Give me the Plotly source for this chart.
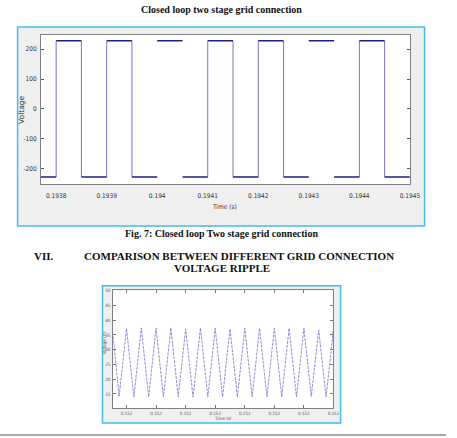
import plotly.graph_objects as go

W, H = 457, 438


def px(x):
    return x / W


def py(y):
    return 1 - y / H


# ---------------- Data: closed loop two stage grid connection ----------------
switch_times = [0.1938, 0.19385, 0.1939, 0.19395, 0.1940, 0.19405, 0.1941,
                0.19415, 0.1942, 0.19425, 0.1943, 0.19435, 0.1944, 0.19445]
edge_drawn = [1, 1, 1, 1, 0, 0, 1, 1, 1, 1, 0, 0, 1, 1]
v_high = 228
v_low = -228
t_start, t_end = 0.19377, 0.1945
top_xticks = [0.1938, 0.1939, 0.1940, 0.1941, 0.1942, 0.1943, 0.1944, 0.1945]
top_xticklabels = ["0.1938", "0.1939", "0.194", "0.1941", "0.1942", "0.1943", "0.1944", "0.1945"]
top_yticks = [200, 100, 0, -100, -200]
top_yticklabels = ["200", "100", "0", "-100", "-200"]

# ---------------- Data: voltage ripple ----------------
ripple_time = [0.1520055, 0.1520075, 0.15201, 0.1520125, 0.152015, 0.1520175,
               0.15202, 0.1520225, 0.152025, 0.1520275, 0.15203, 0.1520325,
               0.152035, 0.1520375, 0.15204, 0.1520425, 0.152045, 0.1520475,
               0.15205, 0.1520525, 0.152055, 0.1520575, 0.15206, 0.1520625,
               0.152065, 0.1520675, 0.15207, 0.1520725, 0.152075, 0.1520775,
               0.15208]
ripple_volt = [34.5, 14.2, 37.1, 14.0, 37.4, 14.0, 37.4, 14.0, 37.4, 14.0,
               37.1, 14.0, 37.4, 14.0, 37.3, 14.0, 37.1, 14.0, 37.3, 14.0,
               37.3, 14.0, 37.3, 14.0, 37.3, 14.0, 37.3, 14.2, 36.7, 14.0,
               37.0]
bot_xticks = [0.15201, 0.15202, 0.15203, 0.15204, 0.15205, 0.15206, 0.15207, 0.15208]
bot_xticklabels = ["0.152"] * 8
bot_yticks = [50, 45, 40, 35, 30, 25, 20, 15]
bot_yticklabels = ["50", "45", "40", "35", "30", "25", "20", "15"]

# ---------------- build step segments ----------------
bounds = [t_start] + switch_times + [t_end]
hx, hy = [], []
for i in range(len(bounds) - 1):
    lvl = v_low if i % 2 == 0 else v_high
    hx += [bounds[i], bounds[i + 1], None]
    hy += [lvl, lvl, None]
vx, vy = [], []
for t, d in zip(switch_times, edge_drawn):
    if d:
        vx += [t, t, None]
        vy += [v_low, v_high, None]

fig = go.Figure()
fig.add_trace(go.Scatter(x=vx, y=vy, mode="lines", xaxis="x", yaxis="y",
                         line=dict(color="#7474c8", width=1), hoverinfo="skip",
                         showlegend=False))
fig.add_trace(go.Scatter(x=hx, y=hy, mode="lines", xaxis="x", yaxis="y",
                         line=dict(color="#1e1e8c", width=1.6), hoverinfo="skip",
                         showlegend=False))
fig.add_trace(go.Scatter(x=ripple_time, y=ripple_volt, mode="lines", xaxis="x2", yaxis="y2",
                         line=dict(color="#8282dc", width=0.9, dash="3px,1px"),
                         hoverinfo="skip", showlegend=False))

tickfont_top = dict(family="DejaVu Sans Condensed, Liberation Sans Narrow, sans-serif",
                    size=6.5, color="#333333")
tickfont_bot = dict(family="DejaVu Sans Condensed, Liberation Sans Narrow, sans-serif",
                    size=4.5, color="#555555")

serif_bold = dict(family="Liberation Serif, Times New Roman, serif", size=10, color="#111111")

shapes = [
    # top figure frame
    dict(type="rect", xref="paper", yref="paper", x0=px(18), x1=px(435), y0=py(225), y1=py(25),
         fillcolor="#efefef", line=dict(color="#45bde6", width=1.5), layer="below"),
    dict(type="rect", xref="paper", yref="paper", x0=px(42), x1=px(420), y0=py(183), y1=py(33),
         fillcolor="#ffffff", line=dict(width=0), layer="below"),
    # bottom figure frame
    dict(type="rect", xref="paper", yref="paper", x0=px(105), x1=px(349), y0=py(423), y1=py(285),
         fillcolor="#efefef", line=dict(color="#45bde6", width=1.5), layer="below"),
    dict(type="rect", xref="paper", yref="paper", x0=px(116), x1=px(341.7), y0=py(407.7), y1=py(289.5),
         fillcolor="#ffffff", line=dict(width=0), layer="below"),
    # page rule
    dict(type="line", xref="paper", yref="paper", x0=0, x1=1, y0=py(435), y1=py(435),
         line=dict(color="#8c8c8c", width=1.5)),
]

annotations = [
    dict(text="<b>Closed loop two stage grid connection</b>", x=px(227), y=py(7.5),
         font=serif_bold),
    dict(text="Voltage", x=px(22), y=py(108), textangle=-90,
         font=dict(family="DejaVu Sans, sans-serif", size=7.5, color="#333333")),
    dict(text="Time (s)", x=px(230), y=py(206), font=tickfont_top),
    dict(text="<b>Fig. 7: Closed loop Two stage grid connection</b>", x=px(226.5), y=py(232.5),
         font=serif_bold),
    dict(text="<b>VII.</b>", x=px(45), y=py(255), font=dict(serif_bold, size=11)),
    dict(text="<b>COMPARISON BETWEEN DIFFERENT GRID CONNECTION</b>", x=px(245), y=py(255),
         font=dict(serif_bold, size=11)),
    dict(text="<b>VOLTAGE RIPPLE</b>", x=px(227), y=py(267.5), font=dict(serif_bold, size=11)),
    dict(text="Time (s)", x=px(228), y=py(418.5), font=tickfont_bot),
    dict(text="Voltage (V)", x=px(107.5), y=py(342), textangle=-90, font=tickfont_bot),
]
for a in annotations:
    a.update(xref="paper", yref="paper", showarrow=False, xanchor="center", yanchor="middle")

axis_common = dict(showgrid=False, zeroline=False, showline=True, linecolor="#808080",
                   linewidth=1, fixedrange=True)

fig.update_layout(
    width=W, height=H,
    margin=dict(l=0, r=0, t=0, b=0),
    paper_bgcolor="#ffffff",
    plot_bgcolor="#ffffff",
    showlegend=False,
    shapes=shapes,
    annotations=annotations,
    xaxis=dict(axis_common, domain=[px(42), px(420)], range=[t_start, t_end], anchor="y",
               mirror=True, ticks="", tickmode="array", tickvals=top_xticks,
               ticktext=top_xticklabels, tickfont=tickfont_top, ticklabelstandoff=5),
    yaxis=dict(axis_common, domain=[py(183), py(33)], range=[-252, 248], anchor="x",
               mirror="ticks", ticks="inside", ticklen=3, tickcolor="#555555",
               tickmode="array", tickvals=top_yticks, ticktext=top_yticklabels,
               tickfont=tickfont_top, ticklabelstandoff=2),
    xaxis2=dict(axis_common, domain=[px(116), px(341.7)], range=[0.1520055, 0.15208],
                anchor="y2", mirror="ticks", ticks="inside", ticklen=3, tickcolor="#777777",
                tickmode="array", tickvals=bot_xticks, ticktext=bot_xticklabels,
                tickfont=tickfont_bot, ticklabelstandoff=1),
    yaxis2=dict(axis_common, domain=[py(407.7), py(289.5)], range=[10.3, 50.2], anchor="x2",
                mirror="ticks", ticks="inside", ticklen=3, tickcolor="#777777",
                tickmode="array", tickvals=bot_yticks, ticktext=bot_yticklabels,
                tickfont=tickfont_bot, ticklabelstandoff=1),
)

fig.write_html("out.html")
